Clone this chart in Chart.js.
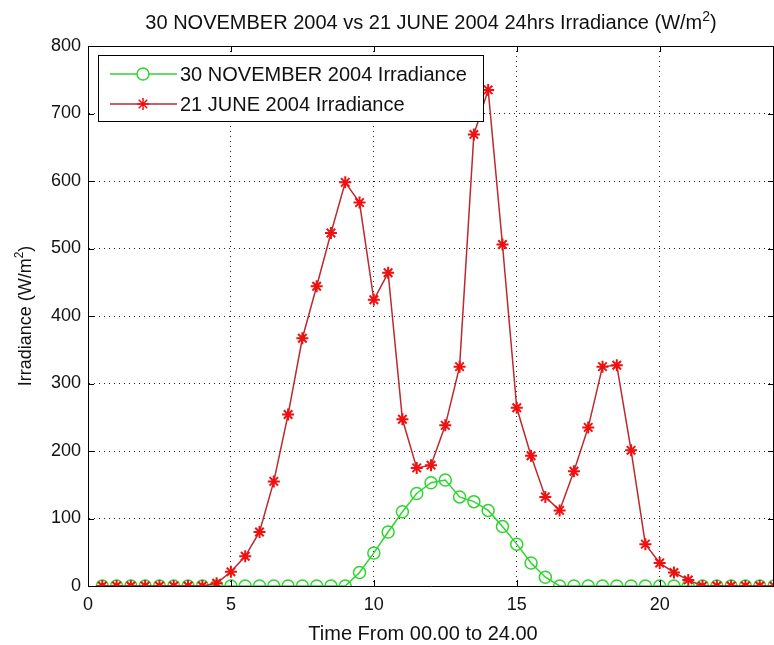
<!DOCTYPE html>
<html>
<head>
<meta charset="utf-8">
<script src="https://cdn.jsdelivr.net/npm/chart.js@4/dist/chart.umd.min.js"></script>
<style>
  html, body { margin: 0; padding: 0; background: #fff; }
  #wrap { width: 774px; height: 645px; }
</style>
</head>
<body>
<div id="wrap"><canvas id="c" width="774" height="645"></canvas></div>
<script>
// Half-hourly time stamps (hours)
const hours = [0.5, 1, 1.5, 2, 2.5, 3, 3.5, 4, 4.5, 5, 5.5, 6, 6.5, 7, 7.5, 8,
  8.5, 9, 9.5, 10, 10.5, 11, 11.5, 12, 12.5, 13, 13.5, 14, 14.5, 15, 15.5, 16,
  16.5, 17, 17.5, 18, 18.5, 19, 19.5, 20, 20.5, 21, 21.5, 22, 22.5, 23, 23.5, 24];

// Irradiance, W/m^2
const novIrradiance = [0, 0, 0, 0, 0, 0, 0, 0, 0, 0, 0, 0, 0, 0, 0, 0,
  0, 0, 20, 49, 80, 110, 137, 153, 157, 132, 125, 112, 88, 62, 34, 13,
  0, 0, 0, 0, 0, 0, 0, 0, 0, 0, 0, 0, 0, 0, 0, 0];
const junIrradiance = [0, 0, 0, 0, 0, 0, 0, 0, 4, 21, 44, 80, 155, 254, 367, 444,
  523, 598, 568, 424, 464, 247, 175, 179, 238, 325, 669, 735, 506, 264, 193, 132,
  112, 170, 235, 325, 327, 201, 62, 34, 20, 9, 0, 0, 0, 0, 0, 0];

const xTicks = [0, 5, 10, 15, 20];
const yTicks = [0, 100, 200, 300, 400, 500, 600, 700, 800];

const seriesNames = ['30 NOVEMBER 2004 Irradiance', '21 JUNE 2004 Irradiance'];
const titleText = '30 NOVEMBER 2004 vs 21 JUNE 2004 24hrs Irradiance (W/m';
const yTitle = 'Irradiance (W/m';
const xTitle = 'Time From 00.00 to 24.00';

const FONT = '"Liberation Sans Narrow", "Arial Narrow", "Liberation Sans", Arial, sans-serif';
const GREEN = '#2fd52f';
const RED_LINE = '#bb2a2e';
const RED_MARK = '#f01010';

const toPoints = ys => hours.map((h, i) => ({ x: h, y: ys[i] }));

// Text with a raised "2" for the m^2 unit
function drawSupText(ctx, base, x, y, size, align) {
  ctx.font = size + 'px ' + FONT;
  const w1 = ctx.measureText(base).width;
  ctx.font = Math.round(size * 0.68) + 'px ' + FONT;
  const w2 = ctx.measureText('2').width;
  ctx.font = size + 'px ' + FONT;
  const w3 = ctx.measureText(')').width;
  const total = w1 + w2 + w3;
  const x0 = align === 'center' ? x - total / 2 : x;
  ctx.textAlign = 'left';
  ctx.textBaseline = 'alphabetic';
  ctx.fillText(base, x0, y);
  ctx.font = Math.round(size * 0.68) + 'px ' + FONT;
  ctx.fillText('2', x0 + w1, y - size * 0.42);
  ctx.font = size + 'px ' + FONT;
  ctx.fillText(')', x0 + w1 + w2, y);
}

const decorations = {
  id: 'decorations',
  afterDraw(chart) {
    const { ctx, chartArea: a, scales } = chart;
    const xs = scales.x, ys = scales.y;
    ctx.save();
    ctx.fillStyle = '#000';
    ctx.strokeStyle = '#000';
    ctx.lineWidth = 1;

    // box around the axes
    ctx.beginPath();
    ctx.moveTo(a.left, a.top + 0.5); ctx.lineTo(a.right, a.top + 0.5);
    ctx.moveTo(a.right - 0.5, a.top); ctx.lineTo(a.right - 0.5, a.bottom);
    ctx.stroke();

    // inward tick marks on all four sides
    const tl = 6;
    ctx.beginPath();
    xTicks.forEach(v => {
      const px = Math.round(xs.getPixelForValue(v)) + 0.5;
      ctx.moveTo(px, a.bottom); ctx.lineTo(px, a.bottom - tl);
      ctx.moveTo(px, a.top); ctx.lineTo(px, a.top + tl);
    });
    yTicks.forEach(v => {
      const py = Math.round(ys.getPixelForValue(v)) + 0.5;
      ctx.moveTo(a.left, py); ctx.lineTo(a.left + tl, py);
      ctx.moveTo(a.right, py); ctx.lineTo(a.right - tl, py);
    });
    ctx.stroke();

    // title
    ctx.fillStyle = '#111';
    drawSupText(ctx, titleText, (a.left + a.right) / 2, 29, 20, 'center');

    // y axis title
    ctx.save();
    ctx.translate(31, (a.top + a.bottom) / 2);
    ctx.rotate(-Math.PI / 2);
    drawSupText(ctx, yTitle, 0, 0, 18, 'center');
    ctx.restore();

    // x axis title
    ctx.font = '20px ' + FONT;
    ctx.textAlign = 'center';
    ctx.textBaseline = 'alphabetic';
    ctx.fillText(xTitle, 423, 640);

    // legend
    const lx = 98, ly = 55, lw = 385, lh = 66;
    ctx.fillStyle = '#fff';
    ctx.fillRect(lx, ly, lw, lh);
    ctx.strokeStyle = '#000';
    ctx.lineWidth = 1;
    ctx.strokeRect(lx + 0.5, ly + 0.5, lw, lh);
    const rows = [
      { y: 74, line: GREEN, mark: GREEN, style: 'circle' },
      { y: 104, line: RED_LINE, mark: RED_MARK, style: 'star' }
    ];
    rows.forEach((r, i) => {
      ctx.strokeStyle = r.line;
      ctx.lineWidth = 1.5;
      ctx.beginPath();
      ctx.moveTo(110, r.y); ctx.lineTo(177, r.y);
      ctx.stroke();
      ctx.strokeStyle = r.mark;
      ctx.fillStyle = i === 0 ? '#fff' : r.mark;
      Chart.helpers.drawPoint(ctx, {
        pointStyle: r.style, radius: 6, rotation: 0, borderWidth: 1.5
      }, 143, r.y);
      ctx.fillStyle = '#111';
      ctx.font = '20px ' + FONT;
      ctx.textAlign = 'left';
      ctx.textBaseline = 'middle';
      ctx.fillText(seriesNames[i], 180, r.y + 1);
    });
    ctx.restore();
  }
};

new Chart(document.getElementById('c'), {
  type: 'line',
  data: {
    datasets: [
      {
        label: seriesNames[0],
        data: toPoints(novIrradiance),
        borderColor: GREEN,
        borderWidth: 1.5,
        pointStyle: 'circle',
        pointRadius: 6,
        pointBorderColor: GREEN,
        pointBackgroundColor: 'rgba(0,0,0,0)',
        pointBorderWidth: 1.5,
        tension: 0,
        order: 2
      },
      {
        label: seriesNames[1],
        data: toPoints(junIrradiance),
        borderColor: RED_LINE,
        borderWidth: 1.5,
        pointStyle: 'star',
        pointRadius: 6,
        pointBorderColor: RED_MARK,
        pointBackgroundColor: RED_MARK,
        pointBorderWidth: 2,
        tension: 0,
        order: 1
      }
    ]
  },
  options: {
    responsive: false,
    animation: false,
    events: [],
    layout: { autoPadding: false, padding: { left: 0, right: 0, top: 46, bottom: 0 } },
    plugins: {
      legend: { display: false },
      title: { display: false },
      tooltip: { enabled: false }
    },
    scales: {
      x: {
        type: 'linear',
        min: 0,
        max: 24,
        afterBuildTicks: s => { s.ticks = xTicks.map(v => ({ value: v })); },
        afterFit: s => { s.height = 59; s.paddingLeft = 0; s.paddingRight = 0; },
        grid: {
          color: '#222',
          lineWidth: 1,
          drawTicks: false
        },
        border: { display: true, color: '#000', width: 1, dash: [1, 4] },
        ticks: {
          color: '#111',
          font: { family: FONT, size: 18 },
          padding: 8,
          maxRotation: 0
        }
      },
      y: {
        type: 'linear',
        min: 0,
        max: 800,
        afterBuildTicks: s => { s.ticks = yTicks.map(v => ({ value: v })); },
        afterFit: s => { s.width = 88; s.paddingTop = 0; s.paddingBottom = 0; },
        grid: {
          color: '#222',
          lineWidth: 1,
          drawTicks: false
        },
        border: { display: true, color: '#000', width: 1, dash: [1, 4] },
        ticks: {
          color: '#111',
          font: { family: FONT, size: 18 },
          padding: 7
        }
      }
    }
  },
  plugins: [decorations]
});
</script>
</body>
</html>
